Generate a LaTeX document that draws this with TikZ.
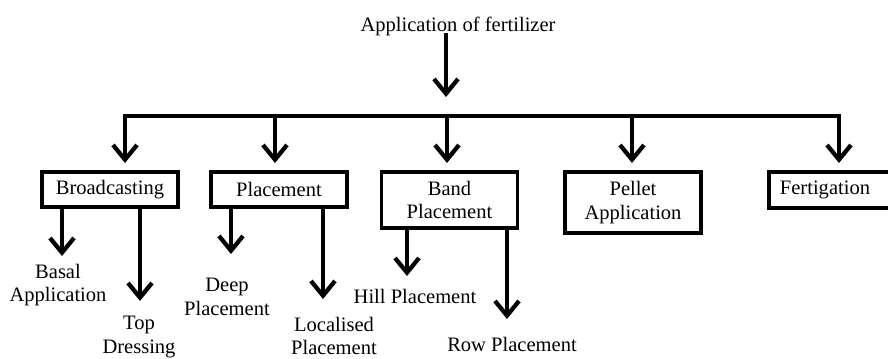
\documentclass[tikz,border=0pt]{standalone}
\usepackage{fontspec}
\setmainfont{Liberation Serif}
\usetikzlibrary{arrows.meta}
\begin{document}
\begin{tikzpicture}[x=0.75pt,y=-0.75pt,
  every node/.style={font=\fontsize{15.4}{17.5}\selectfont, inner sep=0pt, align=center},
  box/.style={draw, line width=2.4pt, minimum width=136*0.75pt},
  arr/.style={line width=3.2pt, -{Straight Barb[length=11pt,width=18pt]}},
  bar/.style={line width=3pt, line cap=rect}]
\useasboundingbox (0,0) rectangle (888,358);
% title
\node (title) at (458,26) {Application of fertilizer};
\coordinate (maintip) at (446,97);
\draw[arr] (title.south -| maintip) ++(0,-3) -- (maintip);
% bar
\coordinate (barL) at (125,116);
\coordinate (barR) at (839,116);
\draw[bar] (barL) -- (barR);
% boxes
\node[box, minimum height=35*0.75pt] (bc) at (110,189.5) {Broadcasting};
\node[box, minimum height=35*0.75pt] (pl) at (279,189.5) {Placement};
\node[box, minimum height=56*0.75pt] (bp) at (449.5,200) {Band\\Placement};
\node[box, minimum height=61*0.75pt] (pe) at (633,202.5) {Pellet\\Application};
\node[box, minimum height=36*0.75pt, minimum width=126*0.75pt] (fe) at (832,190) {};
\node (fet) at (825,190) {Fertigation};
% arrows from bar
\coordinate (t1) at (125,163);
\coordinate (t2) at (275,163);
\coordinate (t3) at (447,163);
\coordinate (t4) at (632,163);
\coordinate (t5) at (839,163);
\draw[arr] (barL) -- (t1);
\draw[arr] (barL -| t2) -- (t2);
\draw[arr] (barL -| t3) -- (t3);
\draw[arr] (barL -| t4) -- (t4);
\draw[arr] (barR) -- (t5);
% sub arrows
\coordinate (s1) at (62,256);
\coordinate (s2) at (140,301);
\coordinate (s3) at (231,254);
\coordinate (s4) at (323,299);
\coordinate (s5) at (407,276);
\coordinate (s6) at (507,319);
\draw[arr] (bc.south -| s1) -- (s1);
\draw[arr] (bc.south -| s2) -- (s2);
\draw[arr] (pl.south -| s3) -- (s3);
\draw[arr] (pl.south -| s4) -- (s4);
\draw[arr] (bp.south -| s5) -- (s5);
\draw[arr] (bp.south -| s6) -- (s6);
% leaf labels
\node (basal) at (58,285) {Basal\\Application};
\node (top) at (139,337) {Top\\Dressing};
\node (deep) at (227,297) {Deep\\Placement};
\node (loc) at (334,336) {Localised\\Placement};
\node (hill) at (415,296) {Hill Placement};
\node (row) at (512,344) {Row Placement};
\end{tikzpicture}
\end{document}
